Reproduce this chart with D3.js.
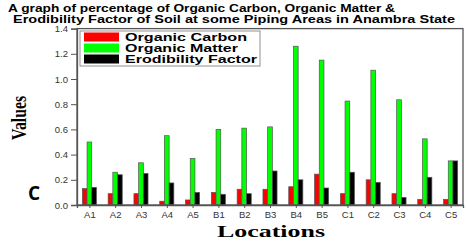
<!DOCTYPE html>
<html>
<head>
<meta charset="utf-8">
<script src="https://cdn.jsdelivr.net/npm/d3@7"></script>
<style>
  body { margin: 0; background: #fff; }
  svg { display: block; }
  .tick text { font-family: "Liberation Sans", Arial, sans-serif; font-size: 9.5px; fill: #333; }
</style>
</head>
<body>
<svg id="chart" width="467" height="242"></svg>
<script>
// data
const locations = ["A1","A2","A3","A4","A5","B1","B2","B3","B4","B5","C1","C2","C3","C4","C5"];
const organicCarbon = [0.13,0.09,0.09,0.03,0.04,0.10,0.125,0.125,0.145,0.245,0.09,0.20,0.09,0.045,0.045];
const organicMatter = [0.50,0.26,0.335,0.55,0.37,0.60,0.61,0.62,1.26,1.15,0.825,1.07,0.835,0.525,0.35];
const erodibility = [0.14,0.24,0.25,0.175,0.10,0.085,0.09,0.27,0.20,0.135,0.26,0.18,0.06,0.22,0.35];
const yTicks = [0, 0.2, 0.4, 0.6, 0.8, 1.0, 1.2, 1.4];
const seriesNames = ["Organic Carbon", "Organic Matter", "Erodibility Factor"];
const seriesColors = ["#ff0000", "#00ff00", "#000000"];

const settings = {
    left: 77,
    right: 463,
    top: 28.6,
    bottom: 205,
    barWidth: 4.7,
};

const svg = d3.select("#chart");

const x = d3.scalePoint()
    .domain(locations)
    .range([settings.left, settings.right])
    .padding(0.48);

const y = d3.scaleLinear().domain([0, 1.4]).range([settings.bottom, settings.top]);

const xSub = d3.scaleBand()
    .domain(seriesNames)
    .range([-settings.barWidth * 1.5, settings.barWidth * 1.5]);

const seriesValues = [organicCarbon, organicMatter, erodibility];

// bars
const groups = svg.append("g").selectAll("g")
    .data(locations)
    .join("g")
    .attr("transform", d => `translate(${x(d)},0)`);

groups.selectAll("rect")
    .data((loc, i) => seriesNames.map((name, s) => ({ name, s, value: seriesValues[s][i] })))
    .join("rect")
    .attr("x", d => xSub(d.name))
    .attr("width", xSub.bandwidth())
    .attr("y", d => y(d.value))
    .attr("height", d => y(0) - y(d.value))
    .attr("fill", d => seriesColors[d.s])
    .attr("stroke", "#555")
    .attr("stroke-width", 0.7);

// frame
svg.append("rect")
    .attr("x", settings.left)
    .attr("y", settings.top)
    .attr("width", settings.right - settings.left)
    .attr("height", settings.bottom - settings.top)
    .attr("fill", "none")
    .attr("stroke", "#555")
    .attr("stroke-width", 1.3);

// axes
const yAxis = svg.append("g")
    .attr("transform", `translate(${settings.left},0)`)
    .call(d3.axisLeft(y).tickValues(yTicks).tickFormat(d3.format(".1f")).tickSize(6).tickPadding(3));
yAxis.select(".domain").attr("stroke", "#555").attr("stroke-width", 1.3);
yAxis.selectAll(".tick line").attr("stroke", "#555");

const xAxis = svg.append("g")
    .attr("transform", `translate(0,${settings.bottom})`)
    .call(d3.axisBottom(x).tickSize(3).tickPadding(3));
xAxis.select(".domain").attr("stroke", "#555").attr("stroke-width", 1.3);
xAxis.selectAll(".tick line").attr("stroke", "#555");

// legend
const legend = svg.append("g").attr("transform", "translate(80,31)");
legend.append("rect")
    .attr("width", 180)
    .attr("height", 35)
    .attr("fill", "#fff")
    .attr("stroke", "#777")
    .attr("stroke-width", 0.8);

const legendWidths = [122, 113, 132];
seriesNames.forEach((name, i) => {
    legend.append("rect")
        .attr("x", 4)
        .attr("y", 1.5 + i * 11)
        .attr("width", 35)
        .attr("height", 9)
        .attr("fill", seriesColors[i]);
    legend.append("text")
        .attr("x", 45)
        .attr("y", 9.8 + i * 11)
        .attr("textLength", legendWidths[i])
        .attr("lengthAdjust", "spacingAndGlyphs")
        .style("font-family", "Liberation Sans, Arial, sans-serif")
        .style("font-weight", "bold")
        .style("font-size", "11px")
        .text(name);
});

// title
svg.append("text")
    .attr("x", 8).attr("y", 12)
    .attr("textLength", 387)
    .attr("lengthAdjust", "spacingAndGlyphs")
    .style("font-family", "Liberation Sans, Arial, sans-serif")
    .style("font-weight", "bold")
    .style("font-size", "11.5px")
    .text("A graph of percentage of Organic Carbon, Organic Matter &");
svg.append("text")
    .attr("x", 13).attr("y", 23)
    .attr("textLength", 442)
    .attr("lengthAdjust", "spacingAndGlyphs")
    .style("font-family", "Liberation Sans, Arial, sans-serif")
    .style("font-weight", "bold")
    .style("font-size", "11.5px")
    .text("Erodibility Factor of Soil at some Piping Areas in Anambra State");

// axis titles
svg.append("text")
    .attr("transform", "translate(26,118) rotate(-90)")
    .attr("text-anchor", "middle")
    .attr("textLength", 44)
    .attr("lengthAdjust", "spacingAndGlyphs")
    .style("font-family", "Liberation Serif, Times New Roman, serif")
    .style("font-weight", "bold")
    .style("font-size", "21px")
    .text("Values");

svg.append("text")
    .attr("x", 217).attr("y", 237)
    .attr("textLength", 108)
    .attr("lengthAdjust", "spacingAndGlyphs")
    .style("font-family", "Liberation Serif, Times New Roman, serif")
    .style("font-weight", "bold")
    .style("font-size", "17px")
    .text("Locations");

// panel letter
svg.append("text")
    .attr("x", 28).attr("y", 200)
    .style("font-family", "Open Sans, Liberation Sans, sans-serif")
    .style("font-weight", "bold")
    .style("font-size", "19px")
    .text("C");
</script>
</body>
</html>
